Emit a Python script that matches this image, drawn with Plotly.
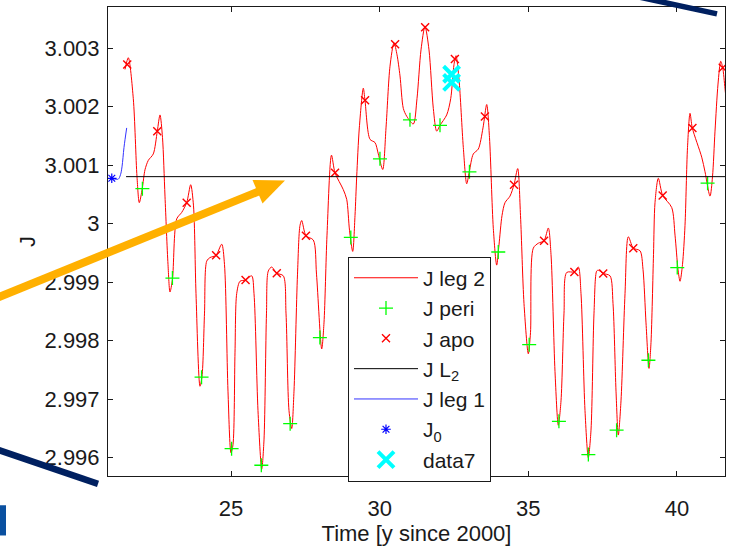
import plotly.graph_objects as go

# ---------------- data ----------------
time_leg2 = [21.435, 21.546, 21.714, 21.838, 21.916, 22.016, 22.107, 22.218, 22.386, 22.521,
             22.612, 22.696, 22.780, 22.881, 22.948, 23.032, 23.174, 23.342, 23.510, 23.644,
             23.739, 23.823, 23.957, 24.025, 24.109, 24.183, 24.294, 24.495, 24.687, 24.781,
             24.899, 25.000, 25.067, 25.135, 25.192, 25.303, 25.494, 25.696, 25.774, 25.908,
             26.033, 26.110, 26.194, 26.255, 26.369, 26.537, 26.759, 26.850, 26.951, 27.042,
             27.119, 27.237, 27.321, 27.378, 27.523, 27.768, 27.876, 28.051, 28.128, 28.229,
             28.380, 28.498, 28.777, 28.892, 28.986, 29.094, 29.171, 29.228, 29.316, 29.450,
             29.507, 29.675, 29.844, 29.955, 30.103, 30.214, 30.348, 30.483, 30.584, 30.685,
             30.796, 30.910, 31.132, 31.256, 31.391, 31.525, 31.660, 31.805, 31.919, 32.030,
             32.255, 32.390, 32.501, 32.568, 32.669, 32.814, 32.928, 33.015, 33.150, 33.318,
             33.476, 33.601, 33.695, 33.823, 33.937, 34.014, 34.115, 34.216, 34.384, 34.519,
             34.643, 34.738, 34.855, 35.000, 35.074, 35.168, 35.336, 35.528, 35.673, 35.764,
             35.898, 36.009, 36.100, 36.201, 36.292, 36.547, 36.682, 36.773, 36.907, 37.018,
             37.109, 37.210, 37.301, 37.355, 37.523, 37.748, 37.849, 37.950, 38.027, 38.118,
             38.253, 38.364, 38.532, 38.758, 38.858, 38.959, 39.060, 39.127, 39.211, 39.262,
             39.373, 39.521, 39.824, 39.935, 40.035, 40.103, 40.187, 40.271, 40.355, 40.439,
             40.516, 40.833, 40.944, 41.112, 41.196, 41.280, 41.381, 41.472, 41.539, 41.617,
             41.718]
J_leg2 = [3.002638, 3.002838, 3.002138, 3.000805, 3.000360, 3.000605, 3.000922, 3.001083, 3.001193, 3.001583,
          3.001860, 3.001472, 3.000472, 2.999305, 2.998833, 2.999055, 3.000083, 3.000193, 3.000360, 3.000667,
          3.000305, 2.998805, 2.997222, 2.997388, 2.998472, 2.999360, 2.999422, 2.999460, 2.999650, 2.999305,
          2.997138, 2.996083, 2.996222, 2.997805, 2.998805, 2.999017, 2.999038, 2.999110, 2.998805, 2.996805,
          2.995805, 2.996305, 2.998472, 2.999193, 2.999260, 2.999155, 2.999110, 2.998472, 2.996805, 2.996500,
          2.997138, 2.999138, 2.999972, 3.000055, 2.999793, 2.999722, 2.999138, 2.997860, 2.998305, 2.999805,
          3.001172, 3.000872, 3.000583, 3.000417, 2.999888, 2.999527, 3.000138, 3.000805, 3.001638, 3.002317,
          3.002110, 3.001443, 3.001388, 3.001193, 3.000927, 3.001638, 3.002693, 3.003093, 3.002888, 3.002527,
          3.001972, 3.001838, 3.001705, 3.002138, 3.002972, 3.003372, 3.002972, 3.001972, 3.001583, 3.001683,
          3.001860, 3.002138, 3.002722, 3.002872, 3.002472, 3.001305, 3.000683, 3.000888, 3.001193, 3.001277,
          3.001638, 3.002038, 3.001472, 2.999922, 2.999293, 2.999638, 3.000138, 3.000360, 3.000472, 3.000667,
          3.000943, 3.000138, 2.998638, 2.997777, 2.998138, 2.999583, 2.999667, 2.999710, 2.999927, 2.999472,
          2.997472, 2.996555, 2.996972, 2.998472, 2.999167, 2.999177, 2.999260, 2.998805, 2.996805, 2.996000,
          2.996472, 2.998472, 2.999193, 2.999205, 2.999150, 2.999110, 2.998638, 2.997138, 2.996388, 2.996972,
          2.998805, 2.999777, 2.999583, 2.999538, 2.999222, 2.998305, 2.997527, 2.997972, 2.999472, 3.000360,
          3.000777, 3.000483, 3.000277, 2.999805, 2.999222, 2.999017, 2.999305, 2.999972, 3.001305, 3.001888,
          3.001638, 3.001138, 3.000888, 3.000472, 3.000805, 3.001583, 3.002388, 3.002777, 3.002667, 3.002305,
          3.001805]

time_peri = [22.02, 23.03, 24.01, 25.02, 26.02, 26.99, 27.99, 29.03, 30.01, 31.02,
             32.03, 33.02, 33.99, 35.03, 36.03, 37.02, 37.97, 39.04, 40.01, 41.03]
J_peri = [3.000600, 2.999072, 2.997377, 2.996155, 2.995872, 2.996583, 2.998055, 2.999767, 3.001110, 3.001777,
          3.001683, 3.000888, 2.999517, 2.997933, 2.996622, 2.996055, 2.996472, 2.997667, 2.999250, 3.000693]

time_apo = [21.51, 22.52, 23.51, 24.50, 25.49, 26.54, 27.52, 28.50, 29.51, 30.52, 31.53,
            32.53, 33.54, 34.52, 35.53, 36.55, 37.52, 38.53, 39.52, 40.52, 41.54]
J_apo = [3.002722, 3.001583, 3.000360, 2.999460, 2.999038, 2.999155, 2.999793, 3.000872, 3.002110, 3.003067,
         3.003360, 3.002817, 3.001833, 3.000667, 2.999710, 2.999177, 2.999150, 2.999583, 3.000483, 3.001638,
         3.002667]

time_L2 = [21.47, 41.75]
J_L2 = [3.000805, 3.000805]

time_leg1 = [20.987, 21.098, 21.209, 21.283, 21.334, 21.401, 21.492]
J_leg1 = [3.000777, 3.000763, 3.000763, 3.000838, 3.000972, 3.001305, 3.001638]

time_J0 = [20.99]
J_J0 = [3.000777]

time_data7 = [32.42, 32.42]
J_data7 = [3.002555, 3.002417]

x_ticks = [25, 30, 35, 40]
y_ticks = [2.996, 2.997, 2.998, 2.999, 3.000, 3.001, 3.002, 3.003]
y_ticklabels = ["2.996", "2.997", "2.998", "2.999", "3", "3.001", "3.002", "3.003"]

# ---------------- figure ----------------
W, H = 732, 546
ML, MR, MT, MB = 108, 7, 6, 59
FONT = "Liberation Sans, Arial, Helvetica, sans-serif"
INK = "#1a1a1a"

fig = go.Figure()
fig.add_trace(go.Scatter(x=time_leg2, y=J_leg2, mode="lines", name="J leg 2",
                         line=dict(color="#ff0000", width=1, shape="spline", smoothing=0.8),
                         legendgroup="a"))
fig.add_trace(go.Scatter(x=time_peri, y=J_peri, mode="markers", name="J peri",
                         marker=dict(symbol="cross-thin", size=10, color="#00ff00",
                                     line=dict(color="#00ff00", width=1.3)),
                         legendgroup="b"))
fig.add_trace(go.Scatter(x=time_apo, y=J_apo, mode="markers", name="J apo",
                         marker=dict(symbol="x-thin", size=8, color="#ff0000",
                                     line=dict(color="#ff0000", width=1.4)),
                         legendgroup="c"))
fig.add_trace(go.Scatter(x=time_L2, y=J_L2, mode="lines", name="J L<sub>2</sub>",
                         line=dict(color="#000000", width=1), legendgroup="d"))
fig.add_trace(go.Scatter(x=time_leg1, y=J_leg1, mode="lines", name="J leg 1",
                         line=dict(color="#3333ff", width=1, shape="spline"), legendgroup="e"))
fig.add_trace(go.Scatter(x=time_J0, y=J_J0, mode="markers", name="J<sub>0</sub>",
                         marker=dict(symbol="asterisk-open", size=8, color="#0000ff",
                                     line=dict(color="#0000ff", width=1.2)),
                         legendgroup="f"))
fig.add_trace(go.Scatter(x=time_data7, y=J_data7, mode="markers", name="data7",
                         marker=dict(symbol="x-thin", size=16, color="#00ffff",
                                     line=dict(color="#00ffff", width=4)),
                         legendgroup="g"))

axis_common = dict(showline=True, linecolor=INK, linewidth=1, mirror="ticks",
                   ticks="inside", ticklen=5, tickcolor=INK, showgrid=False,
                   zeroline=False, tickfont=dict(family=FONT, size=22, color=INK))

fig.update_xaxes(range=[20.863, 41.616], tickvals=x_ticks, ticktext=[str(v) for v in x_ticks],
                 title=dict(text="Time [y since 2000]", font=dict(family=FONT, size=22, color=INK),
                            standoff=3),
                 ticklabelstandoff=13, **axis_common)
fig.update_yaxes(range=[2.995688, 3.003705], tickvals=y_ticks, ticktext=y_ticklabels,
                 title=dict(text="J", font=dict(family=FONT, size=22, color=INK), standoff=2),
                 ticklabelstandoff=3, **axis_common)

def px2paper(px, py):
    return (px - ML) / (W - ML - MR), (H - MB - py) / (H - MT - MB)

shapes = []
# orange arrow (slide overlay)
x0, y0 = px2paper(-6, 305.5)
x1, y1 = px2paper(259, 195)
shapes.append(dict(type="line", xref="paper", yref="paper", x0=x0, y0=y0, x1=x1, y1=y1,
                   line=dict(color="#ffb000", width=8), layer="above"))
tip = px2paper(285, 184)
c1 = px2paper(252.5, 183.5)
c2 = px2paper(262.5, 207.5)
shapes.append(dict(type="path", xref="paper", yref="paper",
                   path=f"M{tip[0]},{tip[1]} L{c1[0]},{c1[1]} L{c2[0]},{c2[1]} Z",
                   fillcolor="#ffb000", line=dict(width=0), layer="above"))
# navy slide lines
a = px2paper(-4, 459.5)
b = px2paper(98, 495)
shapes.append(dict(type="line", xref="paper", yref="paper", x0=a[0], y0=a[1], x1=b[0], y1=b[1],
                   line=dict(color="#002060", width=6.5), layer="above"))
a = px2paper(640, -4)
b = px2paper(717, 13)
shapes.append(dict(type="line", xref="paper", yref="paper", x0=a[0], y0=a[1], x1=b[0], y1=b[1],
                   line=dict(color="#002060", width=5.5), layer="above"))
# blue block bottom-left
a = px2paper(0, 517)
b = px2paper(6, 548)
shapes.append(dict(type="rect", xref="paper", yref="paper", x0=a[0], y0=a[1], x1=b[0], y1=b[1],
                   fillcolor="#0a50a0", line=dict(width=0), layer="above"))

lx, ly = px2paper(348, 262)
fig.update_layout(
    width=W, height=H, autosize=False,
    margin=dict(l=ML, r=MR, t=MT, b=MB, pad=0),
    paper_bgcolor="white", plot_bgcolor="white",
    font=dict(family=FONT, size=21, color=INK),
    showlegend=True,
    legend=dict(x=lx, y=ly, xanchor="left", yanchor="top", bgcolor="white",
                bordercolor=INK, borderwidth=1, font=dict(family=FONT, size=21, color=INK),
                itemwidth=64, tracegroupgap=2, traceorder="normal"),
    shapes=shapes,
)

fig.write_html("out.html")
